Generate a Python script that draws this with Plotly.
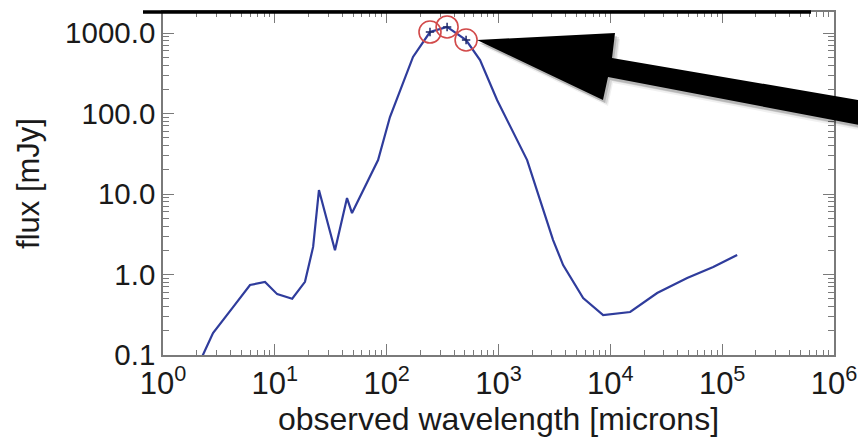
import plotly.graph_objects as go

# ---- data ----
wavelength = [1.97, 2.80, 4.23, 6.0, 8.17, 10.5, 14.3, 18.6, 22.0, 24.8, 34.5, 44.2,
              49.0, 71.1, 83.8, 107, 140, 172, 244, 347, 513, 684, 971, 1351, 1803,
              2355, 3078, 3783, 5714, 8626, 15040, 26220, 48640, 83180, 136200]
flux = [0.065, 0.187, 0.394, 0.74, 0.81, 0.57, 0.50, 0.81, 2.2, 11.2, 2.0, 8.9,
        5.8, 16.3, 26.4, 90.5, 239, 504, 1028, 1189, 818, 462, 147, 57.3, 26.4,
        8.4, 2.68, 1.31, 0.51, 0.314, 0.342, 0.589, 0.906, 1.24, 1.75]

obs_wavelength = [244, 347, 513]
obs_flux = [1028, 1189, 818]

x_tickvals = [1, 10, 100, 1000, 10000, 100000, 1000000]
x_ticktext = ["10<sup>0</sup>", "10<sup>1</sup>", "10<sup>2</sup>", "10<sup>3</sup>",
              "10<sup>4</sup>", "10<sup>5</sup>", "10<sup>6</sup>"]
y_tickvals = [0.1, 1, 10, 100, 1000]
y_ticktext = ["0.1", "1.0", "10.0", "100.0", "1000.0"]

x_minor = [m * 10 ** e for e in range(0, 6) for m in range(2, 10)]
y_minor = [m * 10.0 ** e for e in range(-1, 4) for m in range(2, 10)]

# ---- layout geometry (pixels) ----
W, H = 858, 437
L, R, T, B = 163, 24, 12, 82
PW, PH = W - L - R, H - T - B


def px(x, y):
    """pixel -> paper coords"""
    return (x - L) / PW, (H - B - y) / PH


FONT = "Liberation Sans, Arial, Helvetica, sans-serif"
TXT = "#1a1a1a"
AXC = "#7a7a7a"

fig = go.Figure()
fig.add_trace(go.Scatter(
    x=wavelength, y=flux, mode="lines",
    line=dict(color="#2f3c9c", width=2.2),
    showlegend=False, hoverinfo="skip"))
fig.add_trace(go.Scatter(
    x=obs_wavelength, y=obs_flux, mode="markers",
    marker=dict(symbol="circle-open", size=22, color="#d24a4a",
                line=dict(width=1.6, color="#d24a4a")),
    showlegend=False, hoverinfo="skip"))
fig.add_trace(go.Scatter(
    x=obs_wavelength, y=obs_flux, mode="markers",
    marker=dict(symbol="cross-thin-open", size=6, color="#1f2a6a",
                line=dict(width=1.5, color="#1f2a6a")),
    showlegend=False, hoverinfo="skip"))

axis_common = dict(
    type="log", showgrid=False, zeroline=False,
    showline=True, linecolor=AXC, linewidth=1.5, mirror="ticks",
    ticks="inside", ticklen=11, tickcolor=AXC, tickwidth=1.2,
)

fig.update_xaxes(
    **axis_common, range=[0, 6],
    tickmode="array", tickvals=x_tickvals, ticktext=x_ticktext,
    tickfont=dict(family=FONT, size=31, color=TXT),
    minor=dict(tickmode="array", tickvals=x_minor, ticks="inside",
               ticklen=5, tickcolor=AXC, tickwidth=1),
    title=dict(text="observed wavelength [microns]",
               font=dict(family=FONT, size=32, color=TXT), standoff=0),
)
fig.update_yaxes(
    **axis_common, range=[-1, 3.261],
    tickmode="array", tickvals=y_tickvals, ticktext=y_ticktext,
    tickfont=dict(family=FONT, size=29.5, color=TXT),
    minor=dict(tickmode="array", tickvals=y_minor, ticks="inside",
               ticklen=6, tickcolor=AXC, tickwidth=1),
    title=dict(text="flux [mJy]",
               font=dict(family=FONT, size=31, color=TXT), standoff=16),
)

# thick black top border line
x0, y0 = px(143, 12)
x1, _ = px(811, 12)
fig.add_shape(type="line", xref="paper", yref="paper", x0=x0, y0=y0, x1=x1, y1=y0,
              line=dict(color="black", width=3.5))

# big black arrow pointing at the peak
arrow_px = [(477, 40), (615, 33), (612, 58), (870, 102), (870, 127),
            (608, 77), (603, 100)]


def poly_path(points, dx=0, dy=0):
    pts = [px(x + dx, y + dy) for x, y in points]
    return "M " + " L ".join(f"{a:.4f},{b:.4f}" for a, b in pts) + " Z"


for dx, dy, op in [(5, 6, 0.06), (4, 4, 0.10), (2, 3, 0.15)]:
    fig.add_shape(type="path", xref="paper", yref="paper",
                  path=poly_path(arrow_px, dx, dy),
                  fillcolor="black", line=dict(width=0), opacity=op)
fig.add_shape(type="path", xref="paper", yref="paper", path=poly_path(arrow_px),
              fillcolor="black", line=dict(width=0, color="black"))

fig.update_layout(
    width=W, height=H,
    margin=dict(l=L, r=R, t=T, b=B, autoexpand=False),
    paper_bgcolor="white", plot_bgcolor="white",
    font=dict(family=FONT, color=TXT),
)

fig.write_html("out.html")
